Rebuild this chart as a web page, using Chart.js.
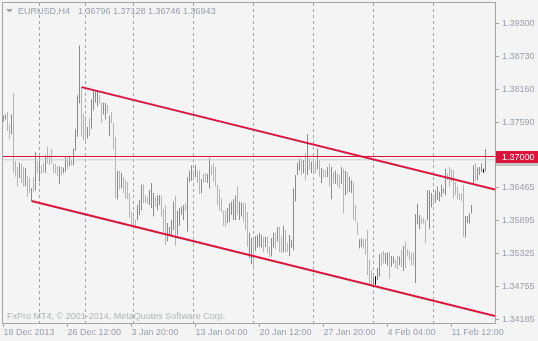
<!DOCTYPE html>
<html>
<head>
<meta charset="utf-8">
<script src="https://cdn.jsdelivr.net/npm/chart.js@4.4.1/dist/chart.umd.min.js"></script>
<style>
  html, body { margin: 0; padding: 0; background: #f4f4f4; }
  canvas { display: block; }
</style>
</head>
<body>
<canvas id="chart" width="538" height="341"></canvas>
<script>
const symbol = 'EURUSD,H4';
const lastBar = { open: 1.36796, high: 1.37128, low: 1.36746, close: 1.36943 };

// H4 bars from 18 Dec 2013, oldest first (the last, still open bar is lastBar)
const barHigh = [
  1.3771, 1.3773, 1.3777, 1.3756, 1.3773, 1.3810, 1.3692, 1.3682, 1.3689, 1.3687,
  1.3682, 1.3680, 1.3666, 1.3663, 1.3645, 1.3664, 1.3708, 1.3691, 1.3699, 1.3685,
  1.3689, 1.3702, 1.3717, 1.3702, 1.3713, 1.3688, 1.3687, 1.3683, 1.3683, 1.3682,
  1.3681, 1.3701, 1.3698, 1.3699, 1.3694, 1.3714, 1.3747, 1.3806, 1.3892, 1.3820,
  1.3773, 1.3770, 1.3751, 1.3766, 1.3799, 1.3815, 1.3812, 1.3815, 1.3806, 1.3794,
  1.3793, 1.3793, 1.3789, 1.3771, 1.3777, 1.3758, 1.3734, 1.3675, 1.3675, 1.3672,
  1.3665, 1.3660, 1.3656, 1.3637, 1.3604, 1.3596, 1.3590, 1.3616, 1.3625, 1.3651,
  1.3652, 1.3633, 1.3630, 1.3642, 1.3654, 1.3637, 1.3630, 1.3633, 1.3633, 1.3632,
  1.3609, 1.3616, 1.3585, 1.3578, 1.3590, 1.3622, 1.3632, 1.3606, 1.3611, 1.3613,
  1.3616, 1.3619, 1.3664, 1.3676, 1.3685, 1.3676, 1.3685, 1.3676, 1.3676, 1.3661,
  1.3670, 1.3671, 1.3670, 1.3698, 1.3685, 1.3688, 1.3682, 1.3651, 1.3644, 1.3628,
  1.3606, 1.3607, 1.3611, 1.3619, 1.3622, 1.3626, 1.3632, 1.3649, 1.3622, 1.3620,
  1.3620, 1.3619, 1.3604, 1.3568, 1.3559, 1.3557, 1.3562, 1.3564, 1.3568, 1.3564,
  1.3561, 1.3561, 1.3561, 1.3544, 1.3559, 1.3568, 1.3568, 1.3578, 1.3578, 1.3562,
  1.3580, 1.3573, 1.3551, 1.3564, 1.3556, 1.3645, 1.3668, 1.3689, 1.3697, 1.3695,
  1.3694, 1.3706, 1.3739, 1.3697, 1.3691, 1.3697, 1.3691, 1.3714, 1.3694, 1.3680,
  1.3678, 1.3676, 1.3682, 1.3688, 1.3682, 1.3673, 1.3676, 1.3671, 1.3668, 1.3682,
  1.3679, 1.3675, 1.3673, 1.3665, 1.3659, 1.3656, 1.3616, 1.3587, 1.3557, 1.3558,
  1.3557, 1.3558, 1.3573, 1.3521, 1.3503, 1.3492, 1.3493, 1.3507, 1.3531, 1.3534,
  1.3537, 1.3533, 1.3534, 1.3535, 1.3528, 1.3527, 1.3522, 1.3528, 1.3527, 1.3538,
  1.3545, 1.3553, 1.3539, 1.3537, 1.3533, 1.3534, 1.3600, 1.3618, 1.3599, 1.3595,
  1.3593, 1.3590, 1.3642, 1.3641, 1.3637, 1.3629, 1.3641, 1.3648, 1.3639, 1.3651,
  1.3645, 1.3678, 1.3671, 1.3682, 1.3678, 1.3676, 1.3656, 1.3648, 1.3636, 1.3636,
  1.3651, 1.3597, 1.3597, 1.3602, 1.3616, 1.3685, 1.3689, 1.3681, 1.3682, 1.3688,
  1.3679
];
const barLow = [
  1.3760, 1.3764, 1.3744, 1.3730, 1.3739, 1.3672, 1.3665, 1.3648, 1.3663, 1.3654,
  1.3649, 1.3649, 1.3630, 1.3637, 1.3623, 1.3639, 1.3641, 1.3671, 1.3656, 1.3670,
  1.3672, 1.3672, 1.3688, 1.3685, 1.3688, 1.3672, 1.3671, 1.3666, 1.3652, 1.3668,
  1.3671, 1.3673, 1.3678, 1.3683, 1.3685, 1.3685, 1.3710, 1.3734, 1.3792, 1.3734,
  1.3728, 1.3725, 1.3731, 1.3735, 1.3748, 1.3780, 1.3793, 1.3787, 1.3792, 1.3758,
  1.3773, 1.3764, 1.3775, 1.3735, 1.3758, 1.3712, 1.3628, 1.3626, 1.3643, 1.3645,
  1.3637, 1.3628, 1.3626, 1.3594, 1.3581, 1.3575, 1.3576, 1.3590, 1.3599, 1.3607,
  1.3619, 1.3619, 1.3618, 1.3616, 1.3611, 1.3596, 1.3613, 1.3607, 1.3616, 1.3596,
  1.3570, 1.3547, 1.3553, 1.3564, 1.3564, 1.3573, 1.3545, 1.3564, 1.3580, 1.3599,
  1.3590, 1.3606, 1.3570, 1.3656, 1.3658, 1.3661, 1.3664, 1.3654, 1.3635, 1.3637,
  1.3654, 1.3656, 1.3654, 1.3645, 1.3668, 1.3656, 1.3648, 1.3616, 1.3606, 1.3604,
  1.3580, 1.3578, 1.3585, 1.3587, 1.3599, 1.3590, 1.3590, 1.3599, 1.3590, 1.3596,
  1.3587, 1.3573, 1.3544, 1.3524, 1.3514, 1.3505, 1.3537, 1.3542, 1.3544, 1.3542,
  1.3535, 1.3544, 1.3533, 1.3526, 1.3527, 1.3542, 1.3540, 1.3553, 1.3535, 1.3533,
  1.3535, 1.3534, 1.3535, 1.3528, 1.3542, 1.3538, 1.3622, 1.3668, 1.3676, 1.3668,
  1.3671, 1.3659, 1.3668, 1.3676, 1.3671, 1.3676, 1.3671, 1.3678, 1.3665, 1.3654,
  1.3664, 1.3664, 1.3664, 1.3648, 1.3626, 1.3653, 1.3653, 1.3648, 1.3645, 1.3653,
  1.3602, 1.3633, 1.3636, 1.3639, 1.3637, 1.3590, 1.3587, 1.3564, 1.3541, 1.3544,
  1.3541, 1.3530, 1.3495, 1.3478, 1.3478, 1.3478, 1.3478, 1.3486, 1.3492, 1.3511,
  1.3515, 1.3515, 1.3511, 1.3489, 1.3509, 1.3515, 1.3507, 1.3505, 1.3512, 1.3509,
  1.3502, 1.3507, 1.3527, 1.3521, 1.3512, 1.3512, 1.3481, 1.3583, 1.3574, 1.3583,
  1.3584, 1.3550, 1.3590, 1.3574, 1.3612, 1.3616, 1.3620, 1.3625, 1.3622, 1.3630,
  1.3637, 1.3633, 1.3659, 1.3648, 1.3656, 1.3628, 1.3633, 1.3626, 1.3625, 1.3623,
  1.3561, 1.3560, 1.3585, 1.3584, 1.3602, 1.3651, 1.3658, 1.3659, 1.3668, 1.3673,
  1.3672
];
// u = bull bar, d = bear bar, n = doji
const barDir = [
  'uuddudddud', 'duddududud', 'duddddddud', 'uududuuuud', 'dduduuuudd',
  'uududddudu', 'ddddddduuu', 'ddduuuduud', 'dduuuuduuu', 'uduuududdu',
  'dduudddddd', 'dduuuuuduu', 'ddduuduuuu', 'dudduududd', 'udduuuuuud',
  'udududdudu', 'ddudududdu', 'duduuddduu', 'dddddunuud', 'duuduuddud',
  'uddddduuud', 'dduuuduuuu', 'uudddddddd', 'duuuuuduuu', 'n'
];

const xTickIdx = [0, 32, 64, 96, 128, 160, 192, 224];
const xTickText = ['18 Dec 2013', '26 Dec 12:00', '3 Jan 20:00', '13 Jan 04:00',
  '20 Jan 12:00', '27 Jan 20:00', '4 Feb 04:00', '11 Feb 12:00'];
const weekStarts = [18, 41, 65, 95, 125, 155, 185, 215];
const yTicks = [1.39300, 1.38730, 1.38160, 1.37590, 1.36465, 1.35895, 1.35325, 1.34755, 1.34185];

const upperChannel = [{ x: 39, y: 1.3820 }, { x: 245.75, y: 1.3643 }];
const lowerChannel = [{ x: 14, y: 1.3623 }, { x: 245.75, y: 1.3424 }];
const hLevel = 1.37000;

const X_MIN = -0.25, X_MAX = 245.75;
const Y_MIN = 1.341199, Y_MAX = 1.396553;
// plot frame inside the 538x341 window
const AREA = { left: 3, top: 3, right: 495, bottom: 323 };
const FONT = "'Liberation Sans', Arial, sans-serif";
const TEXT = '#97a0ae';
const GRID = '#a4a4a4';
const RED = '#dc143c';
const colors = { u: '#5f9ea0', d: '#f2a07f', n: '#000000' };

const highs = barHigh.concat(lastBar.high);
const lows = barLow.concat(lastBar.low);
const dirs = barDir.join('').split('').concat(lastBar.close >= lastBar.open ? 'u' : 'd');
const bars = highs.map((h, i) => ({ x: i, y: [lows[i], h] }));

// pin the plot area so every 1px bar sits on a whole pixel column
const fixedArea = {
  id: 'fixedArea',
  afterLayout(chart) {
    const { left, top, right, bottom } = AREA;
    Object.assign(chart.chartArea, { left, top, right, bottom, width: right - left, height: bottom - top });
    const { x, y } = chart.scales;
    Object.assign(x, { left, right, width: right - left, top: bottom, bottom: chart.height, height: chart.height - bottom });
    Object.assign(y, { top, bottom, height: bottom - top, left: right, right: chart.width, width: chart.width - right });
    x.configure();
    y.configure();
  }
};

const mt4Decor = {
  id: 'mt4Decor',
  beforeDatasetsDraw(chart) {
    const { ctx, chartArea: a, scales: { x } } = chart;
    ctx.save();
    // period separators
    ctx.strokeStyle = GRID;
    ctx.lineWidth = 1;
    ctx.setLineDash([3, 3]);
    weekStarts.forEach(i => {
      const px = x.getPixelForValue(i);
      ctx.beginPath();
      ctx.moveTo(px, a.top);
      ctx.lineTo(px, a.bottom);
      ctx.stroke();
    });
    ctx.setLineDash([]);
    ctx.fillStyle = '#b2b4b8';
    ctx.font = '9px ' + FONT;
    ctx.textBaseline = 'alphabetic';
    ctx.fillText('FxPro MT4, \u00a9 2001-2014, MetaQuotes Software Corp.', 7, a.bottom - 4);
    ctx.restore();
  },
  afterDraw(chart) {
    const { ctx, chartArea: a, scales: { y } } = chart;
    ctx.save();
    // frame
    ctx.strokeStyle = GRID;
    ctx.lineWidth = 1;
    ctx.strokeRect(a.left - 0.5, a.top - 0.5, a.width + 1, a.height + 1);

    // price boxes on the right axis
    ctx.font = '9px ' + FONT;
    ctx.textBaseline = 'middle';
    const box = (price, bg, fg) => {
      const py = Math.round(y.getPixelForValue(price));
      ctx.fillStyle = bg;
      ctx.fillRect(a.right + 1, py - 6, chart.width - a.right - 1, 12);
      ctx.fillStyle = fg;
      ctx.fillText(price.toFixed(5), a.right + 7, py + 0.5);
    };
    box(lastBar.close, '#c4c4c4', '#ffffff');
    box(hLevel, RED, '#ffffff');

    // header
    ctx.fillStyle = '#a0a0a0';
    ctx.beginPath();
    ctx.moveTo(6, 9);
    ctx.lineTo(13, 9);
    ctx.lineTo(9.5, 12.5);
    ctx.closePath();
    ctx.fill();
    ctx.fillStyle = TEXT;
    ctx.textBaseline = 'alphabetic';
    ctx.fillText(symbol, 18, 14);
    const ohlc = [lastBar.open, lastBar.high, lastBar.low, lastBar.close].map(v => v.toFixed(5)).join(' ');
    ctx.fillText(ohlc, 78, 14);
    ctx.restore();
  }
};

const lineSet = (data, color, width, order) => ({
  type: 'line', data, borderColor: color, borderWidth: width,
  pointRadius: 0, fill: false, tension: 0, order
});

new Chart(document.getElementById('chart'), {
  type: 'bar',
  data: {
    datasets: [
      lineSet(upperChannel, RED, 2, 0),
      lineSet(lowerChannel, RED, 2, 0),
      lineSet([{ x: X_MIN, y: hLevel }, { x: X_MAX, y: hLevel }], RED, 1, 1),
      lineSet([{ x: X_MIN, y: lastBar.close }, { x: X_MAX, y: lastBar.close }], '#cccccc', 1, 2),
      {
        type: 'bar', data: bars,
        backgroundColor: dirs.map(d => colors[d]),
        barThickness: 1, borderWidth: 0, inflateAmount: 0, order: 3
      }
    ]
  },
  options: {
    responsive: false,
    devicePixelRatio: 1,
    animation: false,
    layout: { padding: { left: 3, top: 3, right: 0, bottom: 0 } },
    plugins: { legend: { display: false }, tooltip: { enabled: false } },
    scales: {
      x: {
        type: 'linear', min: X_MIN, max: X_MAX, offset: false, bounds: 'data',
        afterFit(s) { s.height = 18; },
        afterBuildTicks(s) { s.ticks = xTickIdx.map(v => ({ value: v })); },
        ticks: {
          align: 'start', padding: 0, autoSkip: false, maxRotation: 0,
          color: TEXT, font: { family: FONT, size: 9 },
          callback: v => xTickText[xTickIdx.indexOf(v)]
        },
        grid: { drawOnChartArea: false, offset: false, tickLength: 4, color: GRID },
        border: { display: false }
      },
      y: {
        position: 'right', min: Y_MIN, max: Y_MAX, bounds: 'data',
        afterFit(s) { s.width = 43; },
        afterBuildTicks(s) { s.ticks = yTicks.map(v => ({ value: v })); },
        ticks: {
          padding: 3, color: TEXT, font: { family: FONT, size: 9 },
          callback: v => v.toFixed(5)
        },
        grid: { drawOnChartArea: false, tickLength: 4, color: GRID },
        border: { display: false }
      }
    }
  },
  plugins: [fixedArea, mt4Decor]
});
</script>
</body>
</html>
